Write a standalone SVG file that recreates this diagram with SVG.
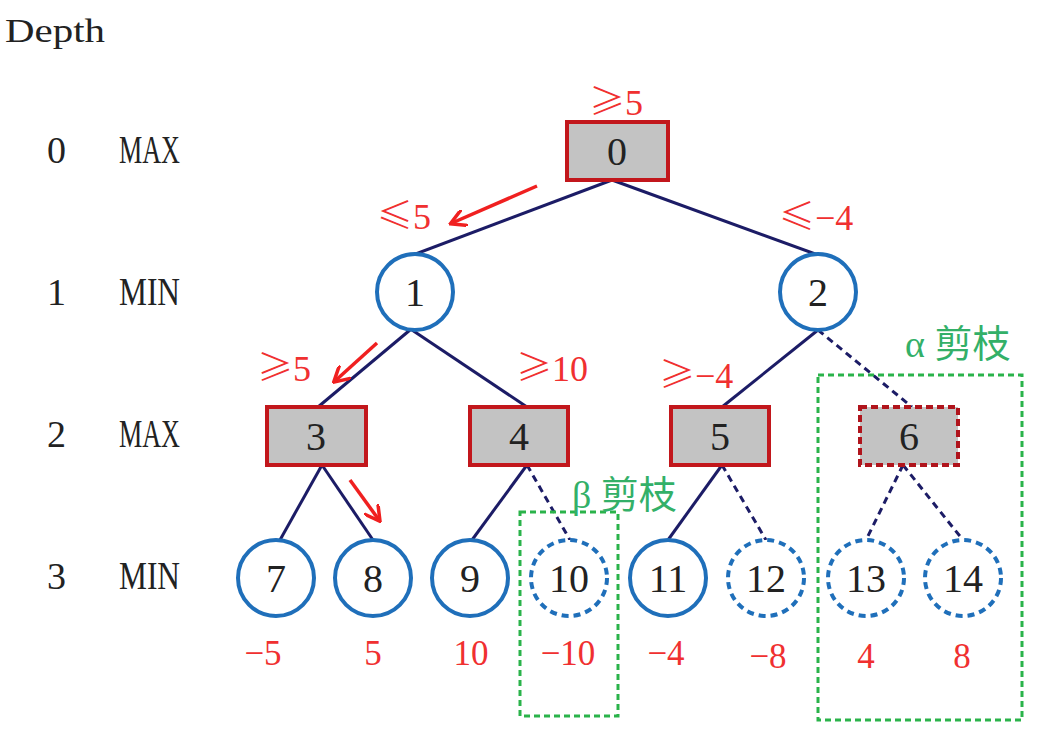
<svg xmlns="http://www.w3.org/2000/svg" width="1051" height="738" viewBox="0 0 1051 738">
<style>
.lbl{font-family:"Liberation Serif",serif;fill:#222}
.nt{font-family:"Liberation Serif",serif;font-size:40px;fill:#222;text-anchor:middle;dominant-baseline:central}
.rv{font-family:"Liberation Serif",serif;font-size:35px;fill:#f03030;text-anchor:middle}
.rb{font-family:"Liberation Serif",serif;font-size:36px;fill:#f03030}
.rel{font-family:"Noto Sans CJK SC",sans-serif;font-size:36px;font-weight:300}
.gt{font-family:"Liberation Serif","Noto Sans CJK SC",serif;font-size:38px;fill:#33b068}
.box{fill:#c3c3c3;stroke:#c2171c;stroke-width:4}
.boxd{fill:#c3c3c3;stroke:#b0141c;stroke-width:4;stroke-dasharray:7 4}
.cir{fill:#fff;stroke:#1f6fba;stroke-width:4}
.cird{fill:#fff;stroke:#1f6fba;stroke-width:4;stroke-dasharray:7 5}
.e{stroke:#1c1c66;stroke-width:3;fill:none}
.ed{stroke:#1c1c66;stroke-width:3;fill:none;stroke-dasharray:7 5}
.ra{stroke:#f02020;stroke-width:3.5;fill:none;marker-end:url(#ah)}
.gb{fill:none;stroke:#2ab34a;stroke-width:3;stroke-dasharray:6 4}
</style>
<defs>
<marker id="ah" viewBox="0 0 10 10" refX="8" refY="5" markerWidth="5" markerHeight="5" orient="auto" markerUnits="strokeWidth">
<path d="M0,0 L9,5 L0,10" fill="none" stroke="#f02020" stroke-width="2"/>
</marker>
</defs>
<rect width="1051" height="738" fill="#fff"/>
<g id="depth-labels">
<text class="lbl" x="5" y="42" font-size="34" textLength="100" lengthAdjust="spacingAndGlyphs">Depth</text>
<text class="lbl" x="47" y="163" font-size="38">0</text><text class="lbl" x="119" y="163" font-size="40" textLength="61" lengthAdjust="spacingAndGlyphs">MAX</text>
<text class="lbl" x="47" y="305" font-size="38">1</text><text class="lbl" x="119" y="305" font-size="40" textLength="61" lengthAdjust="spacingAndGlyphs">MIN</text>
<text class="lbl" x="47" y="447" font-size="38">2</text><text class="lbl" x="119" y="447" font-size="40" textLength="61" lengthAdjust="spacingAndGlyphs">MAX</text>
<text class="lbl" x="47" y="589" font-size="38">3</text><text class="lbl" x="119" y="589" font-size="40" textLength="61" lengthAdjust="spacingAndGlyphs">MIN</text>
</g>
<g id="connectors">
<line class="e" x1="612" y1="180" x2="413" y2="255"/>
<line class="e" x1="612" y1="180" x2="818" y2="255"/>
<line class="e" x1="410" y1="330" x2="318" y2="407"/>
<line class="e" x1="412" y1="330" x2="527" y2="407"/>
<line class="e" x1="322" y1="465" x2="280" y2="540"/>
<line class="e" x1="322" y1="465" x2="373" y2="540"/>
<line class="e" x1="527" y1="465" x2="472" y2="540"/>
<line class="ed" x1="527" y1="465" x2="570" y2="540"/>
<line class="e" x1="818" y1="330" x2="722" y2="407"/>
<line class="ed" x1="818" y1="330" x2="912" y2="407"/>
<line class="e" x1="722" y1="465" x2="668" y2="540"/>
<line class="ed" x1="722" y1="465" x2="766" y2="540"/>
<line class="ed" x1="903" y1="465" x2="866" y2="540"/>
<line class="ed" x1="903" y1="465" x2="963" y2="540"/>
</g>
<g id="red-arrows">
<line class="ra" x1="537" y1="186" x2="452" y2="223"/>
<line class="ra" x1="377" y1="343" x2="335" y2="381"/>
<line class="ra" x1="350" y1="480" x2="379" y2="520"/>
</g>
<g id="node0"><rect class="box" x="567" y="122" width="101" height="58"/><text class="nt" x="617" y="151">0</text></g>
<g id="node1"><circle class="cir" cx="415" cy="292" r="38"/><text class="nt" x="415" y="292">1</text></g>
<g id="node2"><circle class="cir" cx="818" cy="292" r="38"/><text class="nt" x="818" y="292">2</text></g>
<g id="node3"><rect class="box" x="267" y="407" width="99" height="58"/><text class="nt" x="316" y="436">3</text></g>
<g id="node4"><rect class="box" x="470" y="407" width="98" height="58"/><text class="nt" x="519" y="436">4</text></g>
<g id="node5"><rect class="box" x="671" y="407" width="98" height="58"/><text class="nt" x="720" y="436">5</text></g>
<g id="node6"><rect class="boxd" x="860" y="407" width="98" height="58"/><text class="nt" x="909" y="436">6</text></g>
<g id="node7"><circle class="cir" cx="276" cy="578" r="38"/><text class="nt" x="276" y="578">7</text></g>
<g id="node8"><circle class="cir" cx="373" cy="578" r="38"/><text class="nt" x="373" y="578">8</text></g>
<g id="node9"><circle class="cir" cx="470" cy="578" r="38"/><text class="nt" x="470" y="578">9</text></g>
<g id="node10"><circle class="cird" cx="569" cy="578" r="38"/><text class="nt" x="569" y="578">10</text></g>
<g id="node11"><circle class="cir" cx="668" cy="578" r="38"/><text class="nt" x="668" y="578">11</text></g>
<g id="node12"><circle class="cird" cx="766" cy="578" r="38"/><text class="nt" x="766" y="578">12</text></g>
<g id="node13"><circle class="cird" cx="866" cy="578" r="38"/><text class="nt" x="866" y="578">13</text></g>
<g id="node14"><circle class="cird" cx="963" cy="578" r="38"/><text class="nt" x="963" y="578">14</text></g>
<g id="bounds">
<text class="rb" x="589" y="115"><tspan class="rel">≥</tspan>5</text>
<text class="rb" x="377" y="229"><tspan class="rel">≤</tspan>5</text>
<text class="rb" x="779" y="230"><tspan class="rel">≤</tspan>−4</text>
<text class="rb" x="257" y="381"><tspan class="rel">≥</tspan>5</text>
<text class="rb" x="516" y="381"><tspan class="rel">≥</tspan>10</text>
<text class="rb" x="659" y="388"><tspan class="rel">≥</tspan>−4</text>
</g>
<g id="leaf-values">
<text class="rv" x="263" y="665">−5</text>
<text class="rv" x="373" y="665">5</text>
<text class="rv" x="471" y="665">10</text>
<text class="rv" x="568" y="665">−10</text>
<text class="rv" x="666" y="665">−4</text>
<text class="rv" x="768" y="668">−8</text>
<text class="rv" x="866" y="668">4</text>
<text class="rv" x="962" y="668">8</text>
</g>
<g id="pruning">
<rect class="gb" x="520" y="512" width="98" height="204"/>
<rect class="gb" x="818" y="375" width="204" height="345"/>
<text class="gt" x="572" y="508">β 剪枝</text>
<text class="gt" x="905" y="357">α 剪枝</text>
</g>
</svg>
